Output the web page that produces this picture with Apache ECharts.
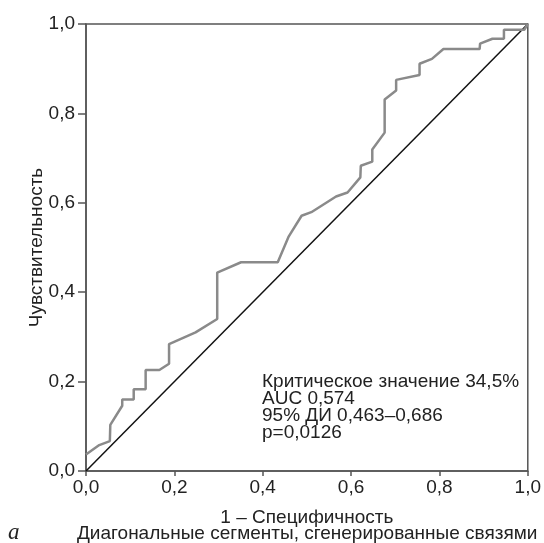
<!DOCTYPE html>
<html>
<head>
<meta charset="utf-8">
<script src="https://cdn.jsdelivr.net/npm/echarts@6/dist/echarts.min.js"></script>
<style>html,body{margin:0;padding:0;background:#fff}#c{width:544px;height:543px}</style>
</head>
<body>
<div id="c"></div>
<script>
// ROC curve (1 - specificity, sensitivity)
var rocX = [0.000,0.030,0.054,0.055,0.082,0.082,0.108,0.108,0.135,0.135,0.166,0.188,0.188,0.248,0.297,0.297,0.351,0.434,0.459,0.488,0.510,0.566,0.592,0.621,0.622,0.648,0.648,0.676,0.676,0.702,0.702,0.755,0.755,0.783,0.809,0.891,0.892,0.920,0.946,0.946,0.992,1.000];
var rocY = [0.037,0.058,0.067,0.103,0.146,0.160,0.160,0.183,0.183,0.226,0.226,0.240,0.284,0.310,0.340,0.444,0.467,0.467,0.525,0.571,0.579,0.614,0.623,0.657,0.683,0.692,0.719,0.757,0.831,0.851,0.875,0.886,0.911,0.922,0.944,0.944,0.956,0.967,0.967,0.987,0.987,1.000];
var diagX = [0, 1];
var diagY = [0, 1];
var xName = '1 – Специфичность';
var yName = 'Чувствительность';
var noteLines = ['Критическое значение 34,5%', 'AUC 0,574', '95% ДИ 0,463–0,686', 'p=0,0126'];
var captionLetter = 'a';
var captionText = 'Диагональные сегменты, сгенерированные связями';

var roc = rocX.map(function(x, i){ return [x, rocY[i]]; });
var diag = diagX.map(function(x, i){ return [x, diagY[i]]; });
function fmt(v){ return v.toFixed(1).replace('.', ','); }
var FONT = 'Liberation Sans, Arial, sans-serif';
var FS = 19;
var chart = echarts.init(document.getElementById('c'), null, {renderer:'canvas'});
chart.setOption({
  animation: false,
  grid: {left: 86, right: 13, top: 24, bottom: 72, show: true, borderColor: '#555', borderWidth: 1.5, backgroundColor: 'transparent'},
  xAxis: {
    type: 'value', min: 0, max: 1, interval: 0.2,
    name: xName, nameLocation: 'middle', nameGap: 37,
    nameTextStyle: {fontFamily: FONT, fontSize: FS, color: '#222'},
    axisLine: {show: true, lineStyle: {color: '#555', width: 1.5}},
    axisTick: {show: true, length: 5, lineStyle: {color: '#555', width: 1.5}},
    axisLabel: {formatter: fmt, fontFamily: FONT, fontSize: FS, color: '#222', margin: 7},
    splitLine: {show: false}
  },
  yAxis: {
    type: 'value', min: 0, max: 1, interval: 0.2,
    name: yName, nameLocation: 'middle', nameGap: 40, nameRotate: 90, nameMoveOverlap: false,
    nameTextStyle: {fontFamily: FONT, fontSize: FS, color: '#222'},
    axisLine: {show: true, lineStyle: {color: '#555', width: 1.5}},
    axisTick: {show: true, length: 8, lineStyle: {color: '#555', width: 1.5}},
    axisLabel: {formatter: fmt, fontFamily: FONT, fontSize: FS, color: '#222', margin: 11},
    splitLine: {show: false}
  },
  series: [
    {type: 'line', data: diag, symbol: 'none', lineStyle: {color: '#111', width: 1.5}, silent: true, z: 2},
    {type: 'line', data: roc, symbol: 'none', lineStyle: {color: '#8a8a8a', width: 2.5}, silent: true, z: 3}
  ],
  graphic: [
    {type: 'text', left: 262, top: 372, style: {text: noteLines.join('\n'), font: FS + 'px ' + FONT, fill: '#222', lineHeight: 17}},
    {type: 'text', left: 8, top: 521, style: {text: captionLetter, font: 'italic 23px "Liberation Serif", serif', fill: '#222'}},
    {type: 'text', left: 77, top: 524, style: {text: captionText, font: FS + 'px ' + FONT, fill: '#222'}}
  ]
});
</script>
</body>
</html>
